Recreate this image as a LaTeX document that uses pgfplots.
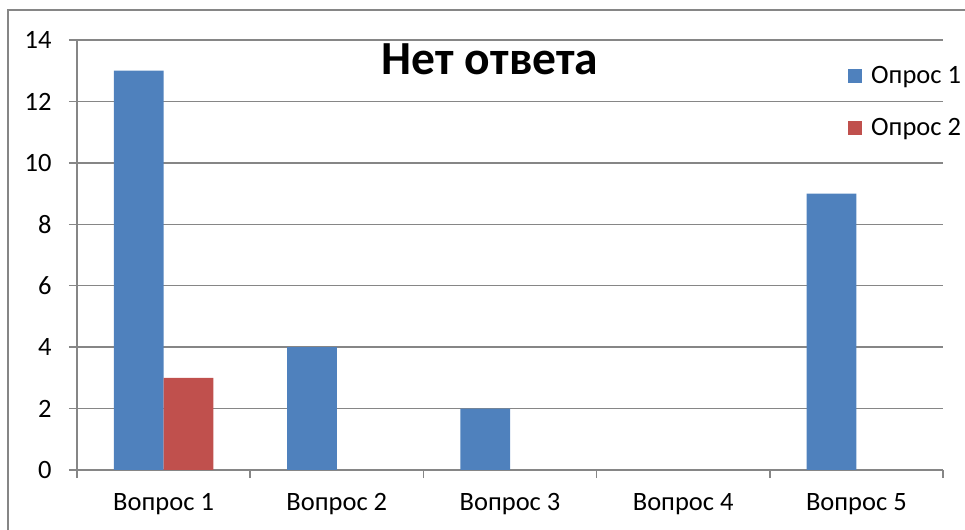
\documentclass[border=0pt]{standalone}
\usepackage{fontspec}
\setmainfont{Carlito}
\usepackage{pgfplots}
\pgfplotsset{compat=1.18}

\definecolor{barblue}{RGB}{79,129,189}
\definecolor{barred}{RGB}{192,80,77}
\definecolor{axgray}{RGB}{134,134,134}

\begin{document}
\begin{tikzpicture}
\path[use as bounding box] (0bp,0bp) rectangle (965bp,530bp);
\draw[axgray, line width=1.5bp] (8bp,0bp) -- (8bp,520bp) -- (965bp,520bp);

\begin{axis}[
  at={(77bp,60bp)}, anchor=south west,
  scale only axis,
  width=866bp, height=430bp,
  xmin=0.5, xmax=5.5,
  ymin=0, ymax=14,
  ytick={0,2,...,14},
  xtick={0.5,1.5,...,5.5},
  xticklabels={},
  extra x ticks={1,2,3,4,5},
  extra x tick labels={Вопрос 1,Вопрос 2,Вопрос 3,Вопрос 4,Вопрос 5},
  extra x tick style={major tick length=0pt},
  axis x line*=bottom,
  axis y line*=left,
  axis line style={axgray, line width=1.5bp},
  tick style={axgray, line width=1.5bp},
  tick align=outside,
  major tick length=8bp,
  ymajorgrids,
  grid style={axgray, line width=1.5bp},
  /pgf/number format/assume math mode=true,
  tick label style={font=\fontsize{26.5bp}{31bp}\selectfont, black},
  yticklabel style={xshift=-14bp},
  xticklabel style={yshift=-20bp},
  title={Нет ответа},
  title style={font=\bfseries\fontsize{47.5bp}{56bp}\selectfont, at={(0.477,0.907)}, anchor=base},
  ybar, bar width=0.287,
  legend style={draw=none, fill=none, inner sep=0pt, at={(0.8903,0.943)}, anchor=north west,
    font=\fontsize{26.5bp}{31bp}\selectfont, row sep=29bp, cells={anchor=west},
    /tikz/every odd column/.append style={column sep=7bp}},
  legend image code/.code={\fill[#1] (0bp,-7bp) rectangle (14bp,7bp);},
]
\addplot[fill=barblue, draw=none, bar shift=-0.1435] coordinates {(1,13) (2,4) (3,2) (4,0) (5,9)};
\addlegendentry{Опрос 1}
\addplot[fill=barred, draw=none, bar shift=0.1435] coordinates {(1,3) (2,0) (3,0) (4,0) (5,0)};
\addlegendentry{Опрос 2}
\end{axis}
\end{tikzpicture}
\end{document}
